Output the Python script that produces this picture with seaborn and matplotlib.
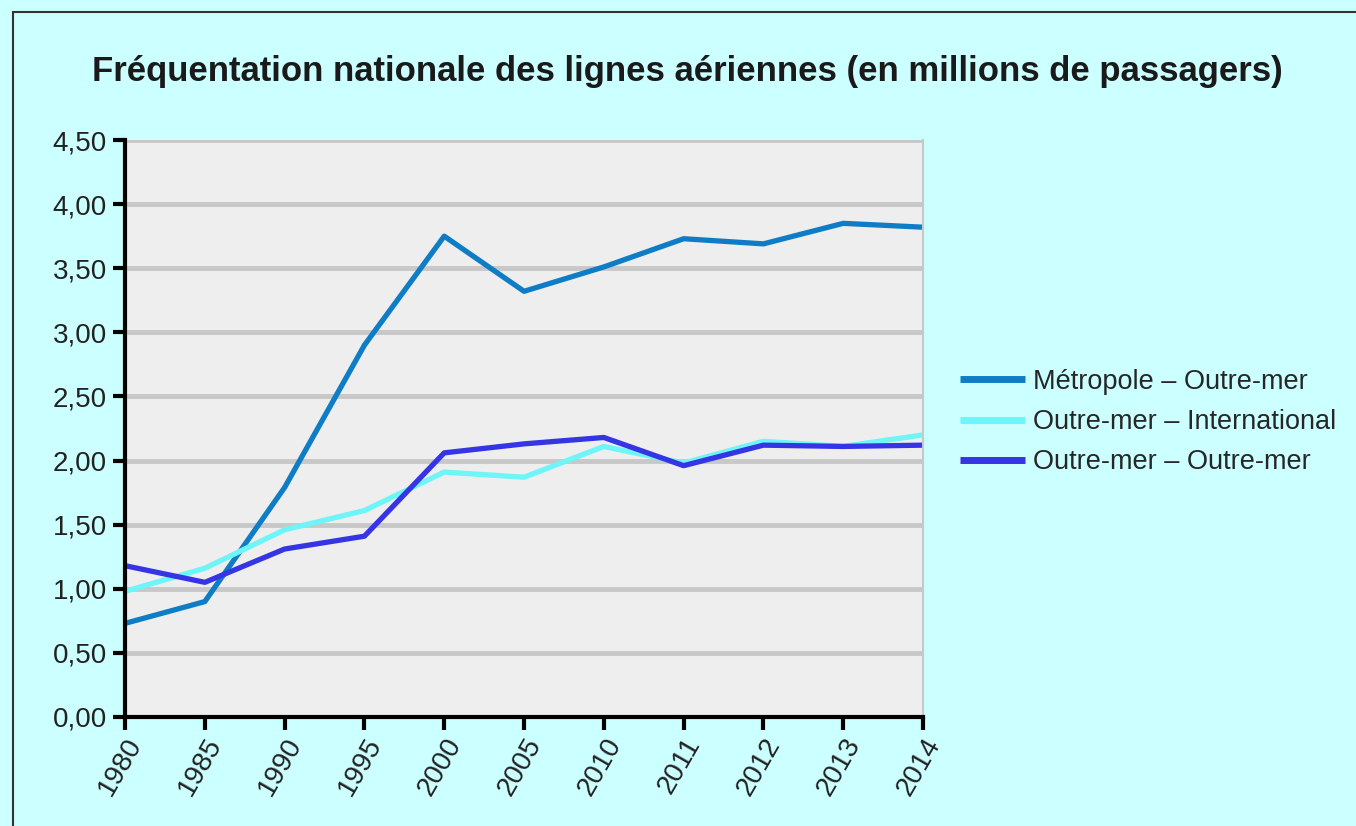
import pandas as pd
import matplotlib.pyplot as plt
import matplotlib.patches as mpatches
import seaborn as sns
from matplotlib.ticker import FuncFormatter, MultipleLocator

# Données (millions de passagers)
annees = ["1980", "1985", "1990", "1995", "2000", "2005", "2010", "2011", "2012", "2013", "2014"]
metropole_outremer = [0.73, 0.90, 1.79, 2.90, 3.75, 3.32, 3.51, 3.73, 3.69, 3.85, 3.82]
outremer_international = [0.98, 1.16, 1.46, 1.61, 1.91, 1.87, 2.11, 1.98, 2.15, 2.11, 2.20]
outremer_outremer = [1.18, 1.05, 1.31, 1.41, 2.06, 2.13, 2.18, 1.96, 2.12, 2.11, 2.12]

series = ["Métropole – Outre-mer", "Outre-mer – International", "Outre-mer – Outre-mer"]
couleurs = ["#0E7DC6", "#6EF5F8", "#3535E6"]

df = pd.DataFrame({
    "annee": annees * 3,
    "valeur": metropole_outremer + outremer_international + outremer_outremer,
    "serie": [series[0]] * len(annees) + [series[1]] * len(annees) + [series[2]] * len(annees),
})

sns.set_style("white")
plt.rcParams["font.family"] = ["Liberation Sans", "DejaVu Sans"]

fig = plt.figure(figsize=(13.56, 8.26), dpi=100)
fig.patch.set_facecolor("#CCFFFF")

# cadre du graphique
fig.patches.append(mpatches.Rectangle(
    (13 / 1356, -0.1), 1.2, 1 - 12 / 826 + 0.1,
    transform=fig.transFigure, fill=False, edgecolor="#333333", linewidth=1.5
))

ax = fig.add_axes([0.0922, 0.132, 0.5885, 0.6985])
ax.set_facecolor("#EEEEEE")

sns.lineplot(
    data=df,
    x="annee",
    y="valeur",
    hue="serie",
    palette=couleurs,
    linewidth=3.8,
    sort=False,
    ax=ax,
)

ax.set_xlim(0, len(annees) - 1)
ax.set_ylim(0, 4.5)
ax.yaxis.set_major_locator(MultipleLocator(0.5))
ax.yaxis.set_major_formatter(FuncFormatter(lambda v, p: f"{v:.2f}".replace(".", ",")))
ax.grid(axis="y", color="#C8C8C8", linewidth=3.5)
ax.set_axisbelow(True)

ax.set_xlabel("")
ax.set_ylabel("")

for s in ["left", "bottom"]:
    ax.spines[s].set_color("black")
    ax.spines[s].set_linewidth(3)
ax.spines["top"].set_visible(False)
ax.spines["right"].set_color("#C8C8C8")
ax.spines["right"].set_linewidth(1.5)

ax.tick_params(axis="both", direction="out", length=9, width=3, color="black",
               labelsize=20, labelcolor="#222222", left=True, bottom=True)
ax.tick_params(axis="y", pad=4)
ax.tick_params(axis="x", pad=3)
plt.setp(ax.get_xticklabels(), rotation=60, ha="right", rotation_mode="anchor")

ax.legend(
    loc="center left",
    bbox_to_anchor=(946 / 1356, 1 - 422 / 826),
    bbox_transform=fig.transFigure,
    frameon=False,
    borderpad=0,
    fontsize=19.5,
    handlelength=2.4,
    handletextpad=0.3,
    labelspacing=0.53,
)
for l in ax.get_legend().get_lines():
    l.set_linewidth(5)
    l.set_solid_capstyle("butt")

fig.text(0.507, 0.913, "Fréquentation nationale des lignes aériennes (en millions de passagers)",
         ha="center", va="center", fontsize=25, fontweight="bold", color="#1A1A1A")

plt.savefig("out.png", dpi=100, facecolor=fig.get_facecolor())
